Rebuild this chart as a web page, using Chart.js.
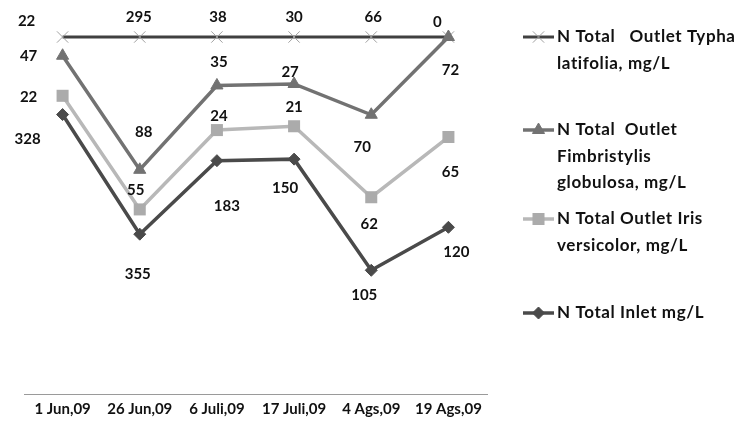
<!DOCTYPE html>
<html>
<head>
<meta charset="utf-8">
<script src="https://cdn.jsdelivr.net/npm/chart.js@4.4.1/dist/chart.umd.min.js"></script>
<style>
  html, body { margin: 0; padding: 0; background: #fff; }
  #wrap { width: 745px; height: 439px; position: relative; }
</style>
</head>
<body>
<div id="wrap"><canvas id="c" width="745" height="439"></canvas></div>
<script>
// Sampling dates and N Total concentrations (mg/L)
const dates = ['1 Jun,09', '26 Jun,09', '6 Juli,09', '17 Juli,09', '4 Ags,09', '19 Ags,09'];
const inlet = [328, 355, 183, 150, 105, 120];
const irisOutlet = [22, 55, 24, 21, 62, 65];
const fimbristylisOutlet = [47, 88, 35, 27, 70, 72];
const typhaOutlet = [22, 295, 38, 30, 66, 0];

// Legend text, one entry per wrapped line
const nameInlet = ['N Total Inlet mg/L'];
const nameIris = ['N Total Outlet Iris', 'versicolor, mg/L'];
const nameFimbristylis = ['N Total  Outlet', 'Fimbristylis', 'globulosa, mg/L'];
const nameTypha = ['N Total   Outlet Typha', 'latifolia, mg/L'];

// 100% stacked: each series is drawn as its share of the date's total
const totals = dates.map((_, i) => inlet[i] + irisOutlet[i] + fimbristylisOutlet[i] + typhaOutlet[i]);
const share = arr => arr.map((v, i) => v / totals[i]);

const FONT = 'Lato, "Liberation Sans", sans-serif';

const datasets = [
  {
    label: nameInlet.join(' '), legendLines: nameInlet, legendY: 313,
    values: inlet, data: share(inlet),
    borderColor: '#4a4a4a', backgroundColor: '#4a4a4a', borderWidth: 3.5,
    pointStyle: 'rectRot', pointRadius: 6, pointBorderWidth: 1,
    labelOffsets: [[-35, 25], [-2, 40], [10, 45], [-9, 29], [-7, 25], [8, 25]]
  },
  {
    label: nameIris.join(' '), legendLines: nameIris, legendY: 219,
    values: irisOutlet, data: share(irisOutlet),
    borderColor: '#b8b8b8', backgroundColor: '#ababab', borderWidth: 3.5,
    pointStyle: 'rect', pointRadius: 8.5, pointBorderWidth: 0,
    labelOffsets: [[-34, 1], [-4, -19], [2, -14], [0, -19], [-2, 27], [2, 35]]
  },
  {
    label: nameFimbristylis.join(' '), legendLines: nameFimbristylis, legendY: 130,
    values: fimbristylisOutlet, data: share(fimbristylisOutlet),
    borderColor: '#727272', backgroundColor: '#727272', borderWidth: 3.5,
    pointStyle: 'triangle', pointRadius: 7, pointBorderWidth: 1,
    labelOffsets: [[-34, 0], [4, -38], [2, -23], [-4, -12], [-9, 32], [2, 33]]
  },
  {
    label: nameTypha.join(' '), legendLines: nameTypha, legendY: 37,
    values: typhaOutlet, data: share(typhaOutlet),
    borderColor: '#404040', backgroundColor: '#a0a0a0', borderWidth: 3,
    pointStyle: 'crossRot', pointRadius: 8, pointBorderWidth: 1,
    pointBorderColor: '#a0a0a0',
    labelOffsets: [[-36, -16], [-1, -20], [1, -20], [0, -20], [2, -20], [-11, -15]]
  }
];
datasets.forEach(d => { d.fill = false; d.tension = 0; d.clip = false; d.pointHoverRadius = d.pointRadius; });

// Value labels next to each point
const valueLabels = {
  id: 'valueLabels',
  afterDatasetsDraw(chart) {
    const ctx = chart.ctx;
    ctx.save();
    ctx.font = 'bold 15px ' + FONT;
    ctx.fillStyle = '#111';
    ctx.textAlign = 'center';
    ctx.textBaseline = 'middle';
    chart.data.datasets.forEach((ds, di) => {
      chart.getDatasetMeta(di).data.forEach((pt, i) => {
        const off = ds.labelOffsets[i];
        ctx.fillText(String(ds.values[i]), pt.x + off[0], pt.y + off[1]);
      });
    });
    ctx.restore();
  }
};

// Legend on the right with line + marker swatches and wrapped names
const sideLegend = {
  id: 'sideLegend',
  afterDraw(chart) {
    const ctx = chart.ctx;
    ctx.save();
    chart.data.datasets.forEach(ds => {
      const y = ds.legendY;
      ctx.strokeStyle = ds.borderColor;
      ctx.lineWidth = ds.borderWidth;
      ctx.beginPath();
      ctx.moveTo(523, y);
      ctx.lineTo(554, y);
      ctx.stroke();
      ctx.fillStyle = ds.backgroundColor;
      ctx.strokeStyle = ds.pointBorderColor || ds.backgroundColor;
      ctx.lineWidth = ds.pointBorderWidth || 0.01;
      Chart.helpers.drawPoint(ctx, {
        pointStyle: ds.pointStyle, radius: ds.pointRadius, rotation: 0,
        borderWidth: ds.pointBorderWidth
      }, 538.5, y);
      ctx.font = 'bold 17px ' + FONT;
      ctx.letterSpacing = '0.6px';
      ctx.fillStyle = '#111';
      ctx.textAlign = 'left';
      ctx.textBaseline = 'middle';
      ds.legendLines.forEach((line, k) => ctx.fillText(line, 557, y + k * 26.5));
      ctx.letterSpacing = '0px';
    });
    ctx.restore();
  }
};

new Chart(document.getElementById('c'), {
  type: 'line',
  data: { labels: dates, datasets },
  options: {
    responsive: false,
    animation: false,
    layout: { padding: { left: 24, right: 258, top: 37, bottom: 0 } },
    plugins: { legend: { display: false }, tooltip: { enabled: false } },
    scales: {
      x: {
        offset: true,
        grid: { display: false, drawTicks: false },
        border: { display: true, color: '#9a9a9a', width: 1 },
        ticks: { font: { family: FONT, size: 15, weight: 'bold' }, color: '#111', padding: 6, maxRotation: 0, autoSkip: false },
        afterFit(scale) { scale.height = 45; }
      },
      y: { display: false, stacked: true, min: 0, max: 1 }
    }
  },
  plugins: [valueLabels, sideLegend]
});
</script>
</body>
</html>
